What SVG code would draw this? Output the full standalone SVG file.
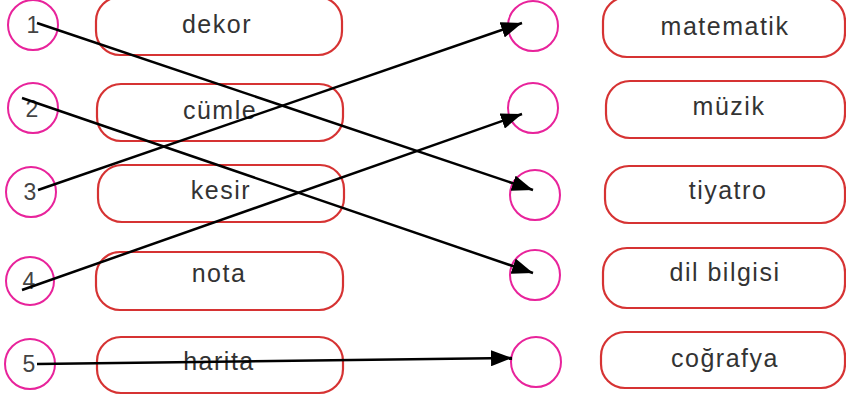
<svg xmlns="http://www.w3.org/2000/svg" width="846" height="398" viewBox="0 0 846 398">
<style>
.c{fill:#fff;stroke:#e8239b;stroke-width:2}
.b{fill:#fff;stroke:#d63333;stroke-width:2.2}
.t{font-family:"Liberation Sans",Arial,sans-serif;font-size:25px;fill:#333;text-anchor:middle;letter-spacing:1.5px}
.n{font-family:"Liberation Sans",Arial,sans-serif;font-size:23px;fill:#444;text-anchor:middle}
.a{stroke:#000;stroke-width:2.5;fill:none;marker-end:url(#ah)}
</style>
<defs>
<marker id="ah" markerUnits="userSpaceOnUse" markerWidth="22" markerHeight="16" refX="21" refY="8" orient="auto">
<path d="M0,0 L21,8 L0,16 Z" fill="#000"/>
</marker>
</defs>
<rect width="846" height="398" fill="#fff"/>
<g id="left-1"><circle class="c" cx="33" cy="25" r="25"/><text class="n" x="33" y="33">1</text></g>
<g id="left-2"><circle class="c" cx="33" cy="108" r="25"/><text class="n" x="32" y="117">2</text></g>
<g id="left-3"><circle class="c" cx="31" cy="192" r="25"/><text class="n" x="30" y="200">3</text></g>
<g id="left-4"><circle class="c" cx="30" cy="281" r="24"/><text class="n" x="29" y="289">4</text></g>
<g id="left-5"><circle class="c" cx="30" cy="364" r="25"/><text class="n" x="29" y="372">5</text></g>
<g id="box-dekor"><rect class="b" x="96" y="-3" width="246" height="58" rx="24"/><text class="t" x="217" y="33">dekor</text></g>
<g id="box-cumle"><rect class="b" x="97" y="84" width="246" height="57" rx="24"/><text class="t" x="220" y="119">cümle</text></g>
<g id="box-kesir"><rect class="b" x="98" y="165" width="246" height="57" rx="24"/><text class="t" x="221" y="199">kesir</text></g>
<g id="box-nota"><rect class="b" x="96" y="252" width="247" height="58" rx="24"/><text class="t" x="219" y="282">nota</text></g>
<g id="box-harita"><rect class="b" x="97" y="337" width="246" height="56" rx="24"/><text class="t" x="219" y="370">harita</text></g>
<g id="right-1"><circle class="c" cx="533" cy="26" r="25"/></g>
<g id="right-2"><circle class="c" cx="533" cy="108" r="25"/></g>
<g id="right-3"><circle class="c" cx="535" cy="195" r="25"/></g>
<g id="right-4"><circle class="c" cx="535" cy="275" r="25"/></g>
<g id="right-5"><circle class="c" cx="536" cy="362" r="25"/></g>
<g id="box-matematik"><rect class="b" x="603" y="-3" width="242" height="60" rx="24"/><text class="t" x="725" y="35">matematik</text></g>
<g id="box-muzik"><rect class="b" x="606" y="81" width="239" height="57" rx="24"/><text class="t" x="729" y="115">müzik</text></g>
<g id="box-tiyatro"><rect class="b" x="605" y="166" width="240" height="57" rx="24"/><text class="t" x="728" y="199">tiyatro</text></g>
<g id="box-dilbilgisi"><rect class="b" x="603" y="248" width="242" height="60" rx="24"/><text class="t" x="725" y="281">dil bilgisi</text></g>
<g id="box-cografya"><rect class="b" x="601" y="332" width="244" height="56" rx="24"/><text class="t" x="725" y="367">coğrafya</text></g>
<g id="connectors">
<line class="a" x1="37" y1="23" x2="533" y2="190"/>
<line class="a" x1="22" y1="98" x2="533" y2="273"/>
<line class="a" x1="38" y1="190" x2="522" y2="23"/>
<line class="a" x1="22" y1="290" x2="522" y2="114"/>
<line class="a" x1="37" y1="364" x2="512" y2="358"/>
</g>
</svg>
